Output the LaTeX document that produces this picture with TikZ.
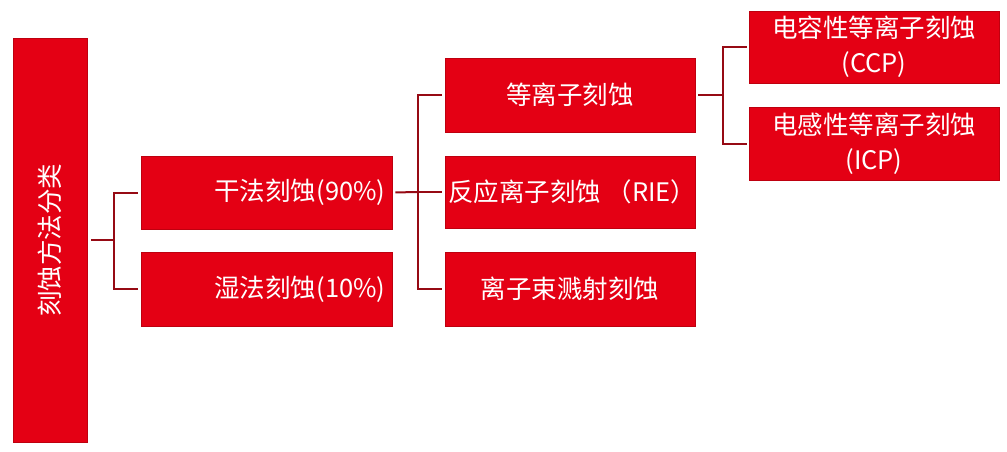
\documentclass[tikz,border=0pt]{standalone}
\usepackage{fontspec}
\setmainfont{Noto Sans CJK SC}
\definecolor{boxred}{RGB}{228,0,20}
\definecolor{edgered}{RGB}{190,0,15}
\definecolor{linered}{RGB}{150,10,20}
\begin{document}
\begin{tikzpicture}[x=1pt,y=-1pt,
  box/.style={draw=edgered,line width=0.8pt,fill=boxred,text=white,inner sep=0pt,
    font=\fontsize{25.5}{35}\selectfont,align=center},
  conn/.style={draw=linered,line width=2pt}]
\useasboundingbox (0,0) rectangle (1007,451);
\node[box,minimum width=74pt,minimum height=404pt] (root) at (50,240) {\rotatebox{90}{刻蚀方法分类}};
\node[box,minimum width=251pt,minimum height=73pt,text width=238pt,align=right] (dry) at (266.5,192.5) {干法刻蚀(90\%)};
\node[box,minimum width=251pt,minimum height=74pt,text width=238pt,align=right] (wet) at (266.5,289) {湿法刻蚀(10\%)};
\node[box,minimum width=250pt,minimum height=74pt] (plasma) at (570,95) {等离子刻蚀};
\node[box,minimum width=250pt,minimum height=72pt] (rie) at (570,192) {\makebox[244pt][l]{反应离子刻蚀 （RIE）}};
\node[box,minimum width=250pt,minimum height=74pt] (ion) at (570,289) {离子束溅射刻蚀};
\node[box,minimum width=250pt,minimum height=72pt] (ccp) at (874,47) {\raisebox{-2pt}{\parbox{240pt}{\centering 电容性等离子刻蚀\\(CCP)}}};
\node[box,minimum width=250pt,minimum height=73pt] (icp) at (874,143.5) {\raisebox{-2pt}{\parbox{240pt}{\centering 电感性等离子刻蚀\\(ICP)}}};
\coordinate (j1) at (114,240);
\coordinate (j2) at (418,192);
\coordinate (j3) at (723,95);
\draw[conn,shorten <=4pt] (root.east) -- (j1);
\draw[conn,shorten <=3pt,shorten >=3pt] (dry.west) -| (j1) |- (wet.west);
\draw[conn,shorten <=3pt] (dry.east) -- (j2);
\draw[conn,shorten <=3pt,shorten >=3pt] (plasma.west) -| (j2) |- (ion.west);
\draw[conn,shorten >=3pt] (j2) -- (rie.west);
\draw[conn,shorten <=3pt] (plasma.east) -- (j3);
\draw[conn,shorten <=2pt,shorten >=2pt] (ccp.west) -| (j3) |- (icp.west);
\end{tikzpicture}
\end{document}
